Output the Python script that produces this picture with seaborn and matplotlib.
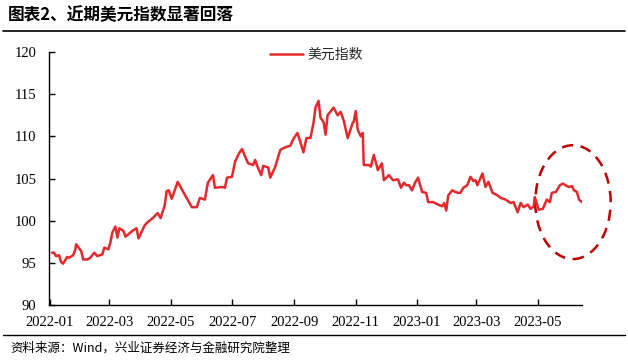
import matplotlib
matplotlib.use("Agg")
import matplotlib.pyplot as plt
import matplotlib.dates as mdates
from matplotlib.patches import Ellipse
from matplotlib.lines import Line2D
import seaborn as sns
import pandas as pd

dates = [
    "2022-01-03", "2022-01-05", "2022-01-07", "2022-01-10", "2022-01-12", "2022-01-14",
    "2022-01-18", "2022-01-20", "2022-01-24", "2022-01-26", "2022-01-27", "2022-02-01",
    "2022-02-03", "2022-02-07", "2022-02-10", "2022-02-14", "2022-02-17", "2022-02-22",
    "2022-02-24", "2022-02-28", "2022-03-02", "2022-03-04", "2022-03-07", "2022-03-09",
    "2022-03-11", "2022-03-15", "2022-03-17", "2022-03-21", "2022-03-24", "2022-03-28",
    "2022-03-30", "2022-04-05", "2022-04-07", "2022-04-12", "2022-04-14", "2022-04-18",
    "2022-04-21", "2022-04-25", "2022-04-27", "2022-04-29", "2022-05-02", "2022-05-08",
    "2022-05-14", "2022-05-22", "2022-05-27", "2022-05-30", "2022-06-04", "2022-06-07",
    "2022-06-12", "2022-06-14", "2022-06-22", "2022-06-24", "2022-06-26", "2022-07-01",
    "2022-07-04", "2022-07-08", "2022-07-11", "2022-07-14", "2022-07-17", "2022-07-22",
    "2022-07-24", "2022-07-26", "2022-07-30", "2022-08-01", "2022-08-06", "2022-08-08",
    "2022-08-13", "2022-08-18", "2022-08-23", "2022-08-28", "2022-08-31", "2022-09-04",
    "2022-09-07", "2022-09-10", "2022-09-13", "2022-09-17", "2022-09-20", "2022-09-22",
    "2022-09-25", "2022-09-27", "2022-09-30", "2022-10-02", "2022-10-04", "2022-10-10",
    "2022-10-14", "2022-10-17", "2022-10-20", "2022-10-24", "2022-10-29", "2022-10-30",
    "2022-11-01", "2022-11-03", "2022-11-06", "2022-11-08", "2022-11-09", "2022-11-14",
    "2022-11-16", "2022-11-19", "2022-11-23", "2022-11-27", "2022-11-29", "2022-12-04",
    "2022-12-08", "2022-12-13", "2022-12-16", "2022-12-19", "2022-12-21", "2022-12-24",
    "2022-12-27", "2022-12-30", "2023-01-02", "2023-01-06", "2023-01-10", "2023-01-12",
    "2023-01-17", "2023-01-22", "2023-01-26", "2023-01-28", "2023-01-30", "2023-02-01",
    "2023-02-05", "2023-02-08", "2023-02-11", "2023-02-13", "2023-02-16", "2023-02-20",
    "2023-02-23", "2023-02-26", "2023-02-28", "2023-03-02", "2023-03-07", "2023-03-10",
    "2023-03-13", "2023-03-17", "2023-03-22", "2023-03-25", "2023-03-30", "2023-04-04",
    "2023-04-07", "2023-04-11", "2023-04-14", "2023-04-17", "2023-04-21", "2023-04-24",
    "2023-04-27", "2023-04-28", "2023-05-02", "2023-05-06", "2023-05-10", "2023-05-13",
    "2023-05-15", "2023-05-19", "2023-05-23", "2023-05-26", "2023-05-30", "2023-06-01",
    "2023-06-04", "2023-06-06", "2023-06-09", "2023-06-11", "2023-06-14",
]
usd_index = [
    96.2, 96.2, 95.8, 95.9, 95.1, 94.9,
    95.7, 95.6, 95.9, 96.5, 97.2, 96.4,
    95.4, 95.4, 95.6, 96.2, 95.8, 96.0,
    96.8, 96.6, 97.4, 98.6, 99.3, 98.0,
    99.1, 98.8, 98.1, 98.5, 98.8, 99.1,
    97.9, 99.4, 99.7, 100.2, 100.4, 100.9,
    100.3, 101.8, 103.5, 103.6, 102.6, 104.6,
    103.3, 101.6, 101.6, 102.7, 102.5, 104.5,
    105.4, 103.9, 104.0, 103.9, 105.1, 105.2,
    107.0, 108.0, 108.5, 107.6, 106.8, 106.6,
    107.2, 106.5, 105.4, 106.5, 106.3, 105.1,
    106.4, 108.4, 108.7, 108.9, 109.7, 110.4,
    109.3, 108.1, 109.8, 109.8, 111.6, 113.4,
    114.2, 112.2, 111.7, 110.2, 112.5, 113.4,
    112.5, 112.9, 111.9, 109.8, 111.6, 111.7,
    113.0, 110.8, 110.0, 110.4, 106.6, 106.6,
    106.4, 107.8, 106.0, 106.8, 104.8, 105.4,
    104.8, 104.9, 103.9, 104.5, 104.2, 104.2,
    103.6, 104.5, 105.1, 103.4, 103.3, 102.2,
    102.2, 101.9, 101.7, 102.1, 101.2, 103.0,
    103.6, 103.4, 103.3, 103.3, 103.9, 104.2,
    105.2, 104.7, 104.8, 104.2, 105.6, 104.0,
    104.6, 103.3, 103.0, 102.7, 102.5, 102.1,
    102.2, 101.0, 102.1, 101.6, 101.9, 101.4,
    101.7, 102.8, 101.3, 101.4, 102.5, 102.2,
    103.3, 103.4, 104.2, 104.4, 104.1, 104.0,
    104.1, 103.6, 103.4, 102.5, 102.2,
]
series_name = "美元指数"
title_text = "图表2、近期美元指数显著回落"
source_text = "资料来源：Wind，兴业证券经济与金融研究院整理"
y_ticks = [90, 95, 100, 105, 110, 115, 120]

df = pd.DataFrame({"date": pd.to_datetime(dates), "value": usd_index})

sns.set_style("ticks")
plt.rcParams["font.family"] = ["Liberation Serif", "Noto Sans CJK SC"]

fig = plt.figure(figsize=(6.28, 3.6), dpi=100)
ax = fig.add_axes([49 / 628, 55 / 360, (582 - 49) / 628, (305 - 52) / 360])

line_color = "#E5282B"
sns.lineplot(data=df, x="date", y="value", ax=ax, color=line_color, linewidth=1.8)

ax.set_xlim(pd.Timestamp("2021-12-31"), pd.Timestamp("2023-06-14"))
ax.set_ylim(90, 120)
ax.set_yticks(y_ticks)
ax.xaxis.set_major_locator(mdates.MonthLocator(bymonth=[1, 3, 5, 7, 9, 11]))
ax.xaxis.set_major_formatter(mdates.DateFormatter("%Y-%m"))
ax.set_xlabel("")
ax.set_ylabel("")
for s in ["top", "right"]:
    ax.spines[s].set_visible(False)
for s in ["left", "bottom"]:
    ax.spines[s].set_color("black")
    ax.spines[s].set_linewidth(1.0)
ax.tick_params(axis="both", direction="in", length=4, width=1, color="black",
               labelsize=10.5, labelcolor="black")
ax.tick_params(axis="y", pad=9)
ax.tick_params(axis="x", pad=8)
for lab in ax.get_xticklabels() + ax.get_yticklabels():
    lab.set_fontfamily("Liberation Serif")

# legend
handle = Line2D([], [], color=line_color, linewidth=1.8)
leg = ax.legend([handle], [series_name], loc="upper center", bbox_to_anchor=(0.502, 1.065),
                frameon=False, handlelength=2.4, handletextpad=0.3,
                prop={"family": "Noto Sans CJK SC", "size": 10})

# highlight ellipse
cx = mdates.date2num(pd.Timestamp("2023-06-05"))
ell = Ellipse((cx, 102.2), width=75, height=13.5, fill=False, edgecolor="#C00000",
              linewidth=1.8, linestyle=(0, (4.5, 3)), clip_on=False)
ax.add_patch(ell)

# title, rules, source
fig.text(8 / 628, 1 - 15 / 360, title_text, fontsize=12, fontweight="bold",
         family=["Noto Sans CJK SC"], va="center", ha="left", color="black")
fig.add_artist(Line2D([3 / 628, 625 / 628], [1 - 31 / 360, 1 - 31 / 360],
                      color="black", linewidth=1.2, transform=fig.transFigure))
fig.add_artist(Line2D([3 / 628, 625 / 628], [1 - 335 / 360, 1 - 335 / 360],
                      color="black", linewidth=1.0, transform=fig.transFigure))
fig.text(10 / 628, 1 - 348 / 360, source_text, fontsize=9,
         family=["Noto Sans CJK SC", "Liberation Serif"], va="center", ha="left", color="black")

fig.savefig("out.png", dpi=100)
